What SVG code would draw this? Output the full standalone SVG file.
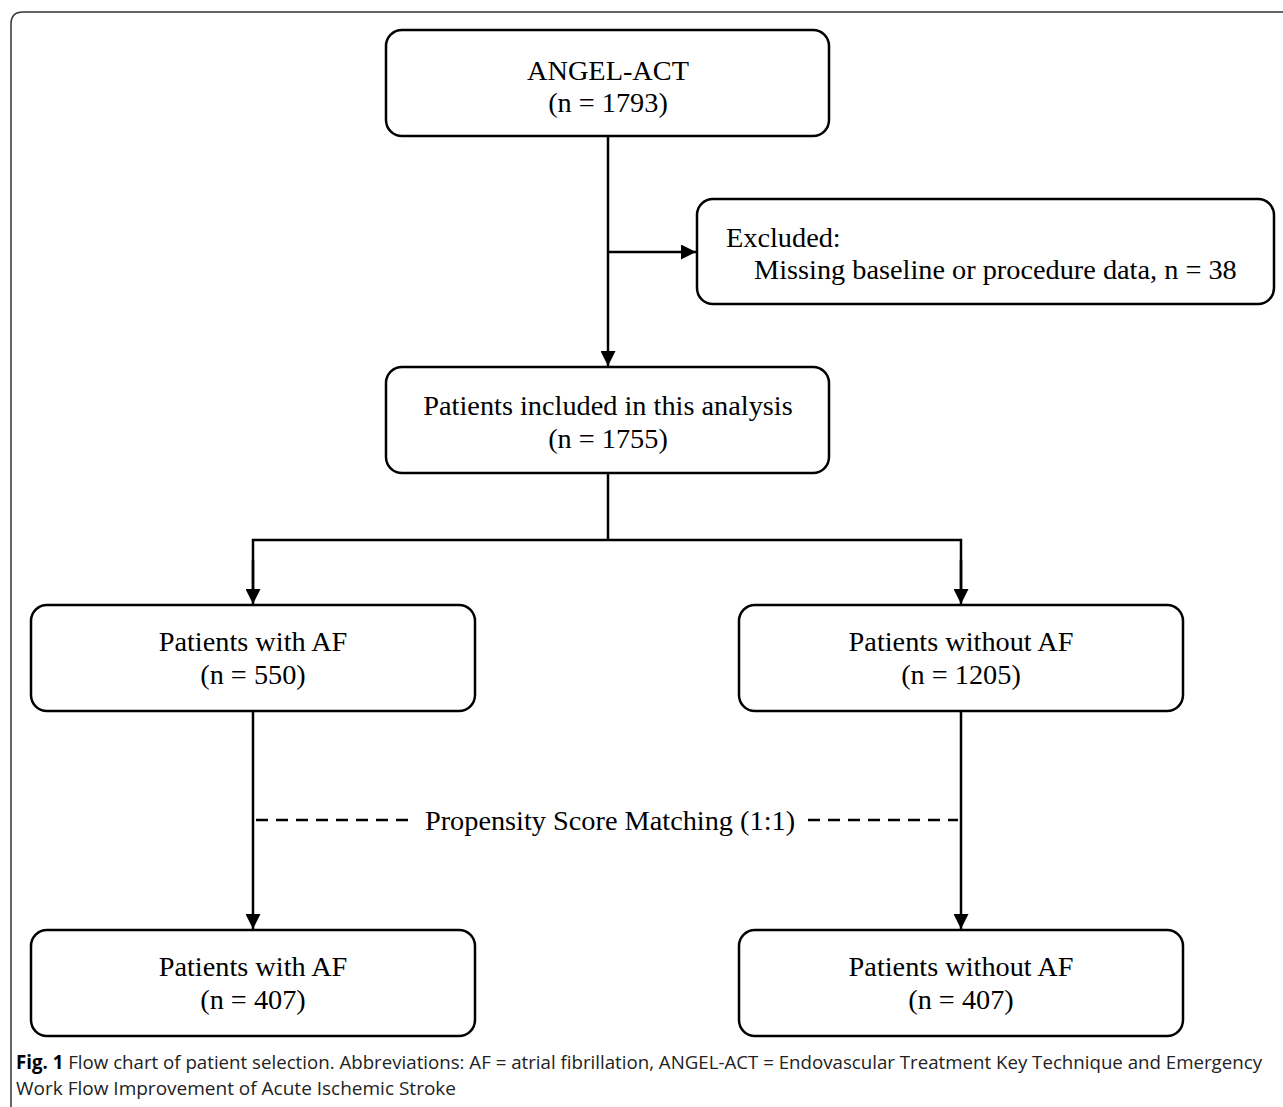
<svg xmlns="http://www.w3.org/2000/svg" width="1283" height="1107" viewBox="0 0 1283 1107">
<style>
.box{fill:#fff;stroke:#000;stroke-width:2.5}
.t{font-family:"Liberation Serif","Times New Roman",serif;font-size:28.3px;fill:#000;text-anchor:middle}
.ln{fill:none;stroke:#000;stroke-width:2.5}
.cap{font-family:"Open Sans","Noto Sans",sans-serif;font-size:19px;fill:#222}
</style>
<defs>
<marker id="a" viewBox="0 0 10 10" refX="10" refY="5" markerWidth="15" markerHeight="15" markerUnits="userSpaceOnUse" orient="auto">
<path d="M0,0 L10,5 L0,10 z" fill="#000"/>
</marker>
</defs>
<rect width="1283" height="1107" fill="#fff"/>
<path d="M11,1107 V24 Q11,12 23,12 H1283" fill="none" stroke="#333" stroke-width="1.5"/>
<g id="connectors">
<line class="ln" x1="608" y1="136" x2="608" y2="366" marker-end="url(#a)"/>
<line class="ln" x1="608" y1="252" x2="696" y2="252" marker-end="url(#a)"/>
<polyline class="ln" points="608,473 608,540"/>
<polyline class="ln" points="253,590 253,540 961,540 961,590"/>
<line class="ln" x1="253" y1="560" x2="253" y2="604" marker-end="url(#a)"/>
<line class="ln" x1="961" y1="560" x2="961" y2="604" marker-end="url(#a)"/>
<line class="ln" x1="253" y1="711" x2="253" y2="929" marker-end="url(#a)"/>
<line class="ln" x1="961" y1="711" x2="961" y2="929" marker-end="url(#a)"/>
<line x1="256" y1="820" x2="412" y2="820" stroke="#000" stroke-width="2.5" stroke-dasharray="12,8"/>
<line x1="808" y1="820" x2="958" y2="820" stroke="#000" stroke-width="2.5" stroke-dasharray="12,8"/>
<text class="t" x="610" y="830">Propensity Score Matching (1:1)</text>
</g>
<g id="n1">
<rect class="box" x="386" y="30" width="443" height="106" rx="16"/>
<text class="t" x="608" y="80">ANGEL-ACT</text>
<text class="t" x="608" y="112">(n = 1793)</text>
</g>
<g id="n2">
<rect class="box" x="697" y="199" width="577" height="105" rx="16"/>
<text class="t" x="726" y="247" style="text-anchor:start">Excluded:</text>
<text class="t" x="754" y="279" style="text-anchor:start">Missing baseline or procedure data, n = 38</text>
</g>
<g id="n3">
<rect class="box" x="386" y="367" width="443" height="106" rx="16"/>
<text class="t" x="608" y="415">Patients included in this analysis</text>
<text class="t" x="608" y="448">(n = 1755)</text>
</g>
<g id="n4">
<rect class="box" x="31" y="605" width="444" height="106" rx="16"/>
<text class="t" x="253" y="651">Patients with AF</text>
<text class="t" x="253" y="684">(n = 550)</text>
</g>
<g id="n5">
<rect class="box" x="739" y="605" width="444" height="106" rx="16"/>
<text class="t" x="961" y="651">Patients without AF</text>
<text class="t" x="961" y="684">(n = 1205)</text>
</g>
<g id="n6">
<rect class="box" x="31" y="930" width="444" height="106" rx="16"/>
<text class="t" x="253" y="976">Patients with AF</text>
<text class="t" x="253" y="1009">(n = 407)</text>
</g>
<g id="n7">
<rect class="box" x="739" y="930" width="444" height="106" rx="16"/>
<text class="t" x="961" y="976">Patients without AF</text>
<text class="t" x="961" y="1009">(n = 407)</text>
</g>
<g id="caption">
<text class="cap" x="16" y="1069" textLength="1246" lengthAdjust="spacingAndGlyphs"><tspan font-weight="bold" fill="#000">Fig. 1</tspan> Flow chart of patient selection. Abbreviations: AF = atrial fibrillation, ANGEL-ACT = Endovascular Treatment Key Technique and Emergency</text>
<text class="cap" x="16" y="1095" textLength="440" lengthAdjust="spacingAndGlyphs">Work Flow Improvement of Acute Ischemic Stroke</text>
</g>
</svg>
